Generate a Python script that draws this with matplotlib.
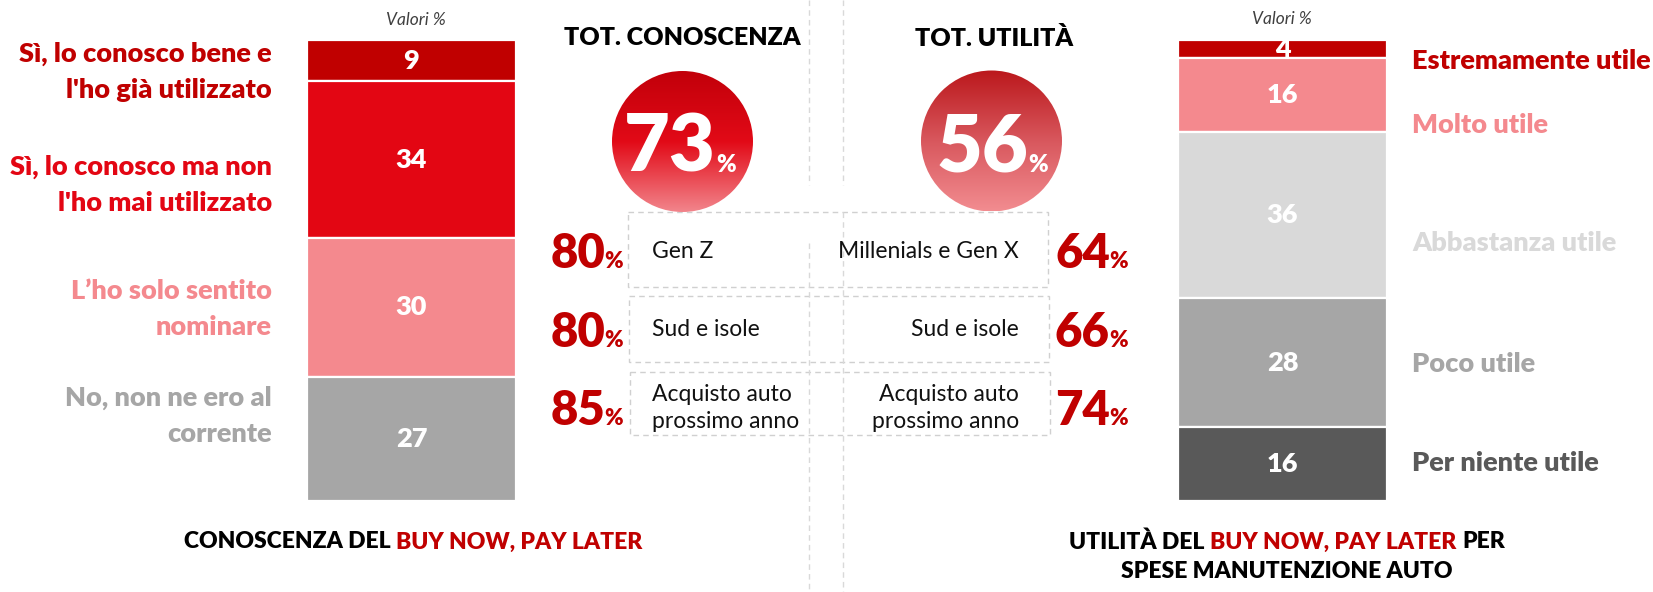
import numpy as np
import matplotlib.pyplot as plt
from matplotlib.colors import LinearSegmentedColormap
from matplotlib.patches import Circle, Rectangle

plt.rcParams["font.family"] = ["Lato", "DejaVu Sans"]

# data
knowledge_labels = ["Sì, lo conosco bene e\nl'ho già utilizzato",
                    "Sì, lo conosco ma non\nl'ho mai utilizzato",
                    "L’ho solo sentito\nnominare",
                    "No, non ne ero al\ncorrente"]
knowledge_values = [9, 34, 30, 27]

utility_labels = ["Estremamente utile", "Molto utile", "Abbastanza utile",
                  "Poco utile", "Per niente utile"]
utility_values = [4, 16, 36, 28, 16]

tot_knowledge = 73
tot_utility = 56

groups_left = ["Gen Z", "Sud e isole", "Acquisto auto\nprossimo anno"]
groups_left_values = [80, 80, 85]
groups_right = ["Millenials e Gen X", "Sud e isole", "Acquisto auto\nprossimo anno"]
groups_right_values = [64, 66, 74]

# styling
DARK_RED = "#C00000"
RED = "#E30613"
PINK = "#F4898E"
LIGHT_GREY = "#D9D9D9"
GREY = "#A6A6A6"
DARK_GREY = "#595959"
knowledge_colors = [DARK_RED, RED, PINK, GREY]
utility_colors = [DARK_RED, PINK, LIGHT_GREY, GREY, DARK_GREY]
BOLD = "heavy"

W, H = 1653, 592
fig = plt.figure(figsize=(W / 100, H / 100), dpi=100)
canvas = fig.add_axes([0, 0, 1, 1])
canvas.set_xlim(0, W)
canvas.set_ylim(H, 0)
canvas.axis("off")


def stacked_bar(left, top, right, bottom, values, colors):
    ax = fig.add_axes([left / W, 1 - bottom / H, (right - left) / W, (bottom - top) / H])
    starts = np.concatenate([[0], np.cumsum(values)[:-1]])
    ax.bar(0, values, bottom=starts, width=1, color=colors,
           edgecolor="white", linewidth=1.6)
    ax.set_xlim(-0.5, 0.5)
    ax.set_ylim(100, 0)
    ax.axis("off")
    for v, s in zip(values, starts):
        ax.text(0, s + v / 2, str(v), ha="center", va="center",
                color="white", fontsize=19.5, fontweight=BOLD)
    return ax


stacked_bar(307, 40, 516, 501, knowledge_values, knowledge_colors)
stacked_bar(1178, 40, 1387, 501, utility_values, utility_colors)

canvas.text(416, 20, "Valori %", ha="center", va="center", fontsize=12.5,
            style="italic", color="#404040")
canvas.text(1282, 19, "Valori %", ha="center", va="center", fontsize=12.5,
            style="italic", color="#404040")

# left labels (two lines each, right aligned)
left_centres = [72, 185, 309, 416]
for lab, yc, col in zip(knowledge_labels, left_centres, knowledge_colors):
    lines = lab.split("\n")
    for i, line in enumerate(lines):
        canvas.text(272, yc + (i - (len(lines) - 1) / 2) * 36, line, ha="right",
                    va="center", fontsize=19.5, fontweight=BOLD, color=col)

# right labels
right_y = [61, 125, 243, 364, 463]
for lab, yc, col in zip(utility_labels, right_y, utility_colors):
    canvas.text(1412, yc, lab, ha="left", va="center", fontsize=19.5,
                fontweight=BOLD, color=col)

# vertical dashed dividers
dash_kw = dict(color="#D9D9D9", lw=1, ls=(0, (4, 3)))
canvas.plot([809, 809], [0, 185], **dash_kw)
canvas.plot([809, 809], [243, H], **dash_kw)
canvas.plot([843, 843], [0, 185], **dash_kw)
canvas.plot([843, 843], [212, H], **dash_kw)

# headline circles
canvas.text(682, 38, "TOT. CONOSCENZA", ha="center", va="center", fontsize=18,
            fontweight=BOLD, color="black")
canvas.text(994, 38, "TOT. UTILITÀ", ha="center", va="center", fontsize=18,
            fontweight=BOLD, color="black")


def gradient_circle(cx, cy, r, colors):
    cmap = LinearSegmentedColormap.from_list("g", colors)
    grad = np.linspace(0, 1, 256).reshape(-1, 1)
    im = canvas.imshow(grad, cmap=cmap, aspect="auto",
                       extent=(cx - r, cx + r, cy + r, cy - r), zorder=2)
    clip = Circle((cx, cy), r, transform=canvas.transData)
    im.set_clip_path(clip)


gradient_circle(682.5, 141.5, 70.5, [(0, "#C2000A"), (0.5, "#E20A17"), (1, "#F2858C")])
gradient_circle(991.5, 141, 70.5, [(0, "#BB181C"), (0.5, "#D8575D"), (1, "#F28C90")])
canvas.set_xlim(0, W)
canvas.set_ylim(H, 0)

canvas.text(716, 172, str(tot_knowledge), ha="right", va="baseline", fontsize=57,
            fontweight=BOLD, color="white", zorder=3)
canvas.text(716, 172, "%", ha="left", va="baseline", fontsize=17,
            fontweight=BOLD, color="white", zorder=3)
canvas.text(1028, 172, str(tot_utility), ha="right", va="baseline", fontsize=57,
            fontweight=BOLD, color="white", zorder=3)
canvas.text(1028, 172, "%", ha="left", va="baseline", fontsize=17,
            fontweight=BOLD, color="white", zorder=3)

# group boxes
boxes = [(628, 212, 420, 75), (629, 296, 420, 66), (630, 372, 420, 63)]
for x0, y0, bw, bh in boxes:
    canvas.add_patch(Rectangle((x0, y0), bw, bh, fill=False, ec="#D0D0D0",
                               lw=1, ls=(0, (4, 3))))

row_y = [251, 330, 408]
row_base = [268, 347, 425]
for lab, v, yc, yb in zip(groups_left, groups_left_values, row_y, row_base):
    canvas.text(652, yc, lab, ha="left", va="center", fontsize=16.5,
                color="#111111", linespacing=1.4)
    canvas.text(605, yb, str(v), ha="right", va="baseline", fontsize=34,
                fontweight=BOLD, color=DARK_RED)
    canvas.text(604, yb, "%", ha="left", va="baseline", fontsize=16,
                fontweight=BOLD, color=DARK_RED)

for lab, v, yc, yb in zip(groups_right, groups_right_values, row_y, row_base):
    canvas.text(1019, yc, lab, ha="right", va="center", fontsize=16.5,
                color="#111111", linespacing=1.4, multialignment="right")
    canvas.text(1110, yb, str(v), ha="right", va="baseline", fontsize=34,
                fontweight=BOLD, color=DARK_RED)
    canvas.text(1109, yb, "%", ha="left", va="baseline", fontsize=16,
                fontweight=BOLD, color=DARK_RED)

# bottom titles with mixed colours
renderer = fig.canvas.get_renderer()


def coloured_line(xc, y, pieces, size=16.5):
    texts = [canvas.text(0, y, s, ha="left", va="center", fontsize=size,
                         fontweight=BOLD, color=c) for s, c in pieces]
    gap = size * 100 / 72 * 0.25
    widths = [t.get_window_extent(renderer).width for t in texts]
    x = xc - (sum(widths) + gap * (len(widths) - 1)) / 2
    for t, w in zip(texts, widths):
        t.set_x(x)
        x += w + gap


coloured_line(413, 542, [("CONOSCENZA DEL", "black"), ("BUY NOW, PAY LATER", DARK_RED)])
coloured_line(1287, 542, [("UTILITÀ DEL", "black"), ("BUY NOW, PAY LATER", DARK_RED),
                          ("PER", "black")])
coloured_line(1287, 572, [("SPESE MANUTENZIONE AUTO", "black")])

fig.savefig("out.png", dpi=100)
